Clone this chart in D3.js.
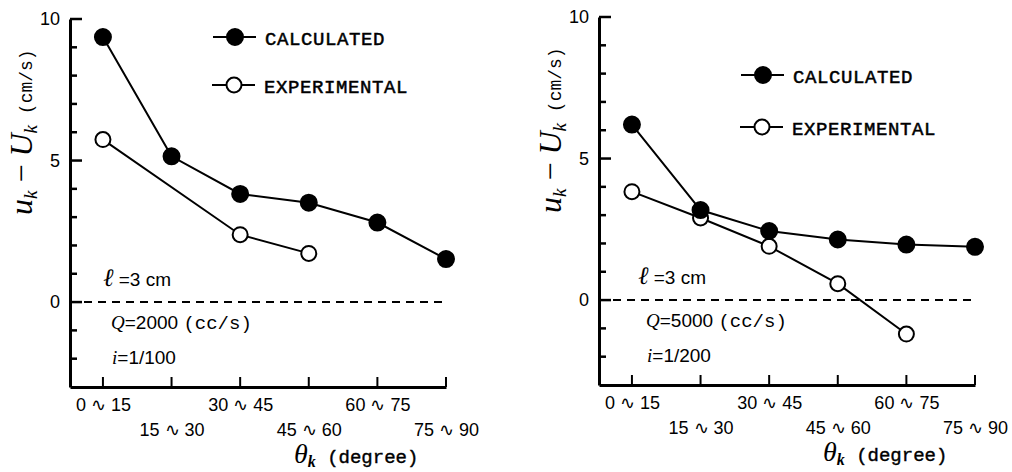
<!DOCTYPE html>
<html>
<head>
<meta charset="utf-8">
<script src="https://cdn.jsdelivr.net/npm/d3@7"></script>
<style>
body { margin: 0; background: #fff; }
text { fill: #000; }
</style>
</head>
<body>
<svg width="1012" height="472"></svg>
<script>
// categories of theta_k and the values
var categories = ["0 \u223f 15", "15 \u223f 30", "30 \u223f 45", "45 \u223f 60", "60 \u223f 75", "75 \u223f 90"];
var yTickLabels = [0, 5, 10];
var calcLeft = [9.36, 5.15, 3.82, 3.51, 2.81, 1.52];
var expLeft = [5.74, null, 2.38, 1.72, null, null];
var calcRight = [6.2, 3.18, 2.44, 2.14, 1.96, 1.88];
var expRight = [3.83, 2.9, 1.9, 0.58, -1.2, null];

var svg = d3.select("svg"),
    width = 376,
    height = 368;

var sans = "'Liberation Sans', Arial, sans-serif",
    serif = "'Liberation Serif', 'Times New Roman', serif",
    mono = "'Liberation Mono', 'Courier New', monospace";

function panel(ox, oy, calc, exp, qText, iText, leg) {
  var g = svg.append("g").attr("transform", "translate(" + ox + "," + oy + ")");

  var x = d3.scaleLinear().domain([-0.48, 5]).range([0, width]);
  var y = d3.scaleLinear().domain([-3, 10]).range([height, 0]);

  // y axis line and labels at 0, 5, 10
  var ya = g.append("g")
      .call(d3.axisLeft(y).tickValues(yTickLabels).tickSize(0).tickPadding(10));
  ya.select(".domain").attr("stroke", "#000").attr("stroke-width", 3);
  ya.selectAll(".tick text").attr("font-family", sans).attr("font-size", 18);

  // inward ticks, every unit
  g.selectAll(".ytick").data(d3.range(-2, 11)).enter().append("line")
      .attr("class", "ytick")
      .attr("x1", 0)
      .attr("x2", function(d) { return yTickLabels.indexOf(d) >= 0 ? 12 : 7; })
      .attr("y1", function(d) { return y(d); })
      .attr("y2", function(d) { return y(d); })
      .attr("stroke", "#000").attr("stroke-width", 2.5);

  // x axis, labels on two rows
  var xa = g.append("g")
      .attr("transform", "translate(0," + height + ")")
      .call(d3.axisBottom(x).tickValues(d3.range(6)).tickSize(0)
        .tickFormat(function(d) { return categories[d]; }));
  xa.select(".domain").attr("stroke", "#000").attr("stroke-width", 3);
  xa.selectAll(".tick text")
      .attr("font-family", sans).attr("font-size", 18)
      .attr("dy", 0)
      .attr("y", function(d) { return d % 2 ? 49 : 24; });

  // upward ticks
  g.selectAll(".xtick").data(d3.range(6)).enter().append("line")
      .attr("class", "xtick")
      .attr("x1", function(d) { return x(d); })
      .attr("x2", function(d) { return x(d); })
      .attr("y1", height).attr("y2", height - 10)
      .attr("stroke", "#000").attr("stroke-width", 2);

  // zero line
  g.append("line")
      .attr("x1", 0).attr("x2", 372)
      .attr("y1", y(0)).attr("y2", y(0))
      .attr("stroke", "#000").attr("stroke-width", 2)
      .attr("stroke-dasharray", "8,6");

  var line = d3.line()
      .x(function(d) { return x(d.i); })
      .y(function(d) { return y(d.v); });

  function pts(arr) {
    return arr.map(function(v, i) { return {i: i, v: v}; })
      .filter(function(d) { return d.v != null; });
  }

  [exp, calc].forEach(function(arr, k) {
    var p = pts(arr);
    g.append("path").datum(p)
        .attr("d", line)
        .attr("fill", "none").attr("stroke", "#000").attr("stroke-width", 2);
    g.selectAll(".m" + k).data(p).enter().append("circle")
        .attr("class", "m" + k)
        .attr("cx", function(d) { return x(d.i); })
        .attr("cy", function(d) { return y(d.v); })
        .attr("r", k ? 8 : 7.5)
        .attr("fill", k ? "#000" : "#fff")
        .attr("stroke", "#000").attr("stroke-width", 2);
  });

  // legend
  [["CALCULATED", true, leg[0]], ["EXPERIMENTAL", false, leg[1]]].forEach(function(l) {
    var p = l[2];
    g.append("line")
        .attr("x1", p[0] - 22).attr("x2", p[0] + 21)
        .attr("y1", p[1]).attr("y2", p[1])
        .attr("stroke", "#000").attr("stroke-width", 2);
    g.append("circle")
        .attr("cx", p[0]).attr("cy", p[1]).attr("r", l[1] ? 8 : 7.5)
        .attr("fill", l[1] ? "#000" : "#fff")
        .attr("stroke", "#000").attr("stroke-width", 2);
    g.append("text")
        .attr("x", p[0] + 30).attr("y", p[1] + 8)
        .attr("font-family", mono).attr("font-size", 19)
        .attr("letter-spacing", 0.6)
        .attr("stroke", "#000").attr("stroke-width", 0.5)
        .text(l[0]);
  });

  // annotations
  var a1 = g.append("text").attr("x", leg[2]).attr("y", 267)
      .attr("font-family", sans).attr("font-size", 19);
  a1.append("tspan").attr("font-family", serif).attr("font-style", "italic").attr("font-size", 25).text("\u2113");
  a1.append("tspan").text(" =3 cm");

  var a2 = g.append("text").attr("x", leg[2] + 8).attr("y", 310)
      .attr("font-family", sans).attr("font-size", 19);
  a2.append("tspan").attr("font-family", serif).attr("font-style", "italic").text("Q");
  a2.append("tspan").text("=" + qText + " ");
  a2.append("tspan").attr("font-family", mono).attr("font-size", 19).text("(cc/s)");

  var a3 = g.append("text").attr("x", leg[2] + 9).attr("y", 345)
      .attr("font-family", sans).attr("font-size", 19);
  a3.append("tspan").attr("font-family", serif).attr("font-style", "italic").text("i");
  a3.append("tspan").text("=" + iText);

  // y label
  var yl = g.append("text")
      .attr("transform", "translate(-38,196) rotate(-90)")
      .attr("font-family", serif).attr("font-size", 32);
  yl.append("tspan").attr("font-style", "italic").text("u");
  yl.append("tspan").attr("font-style", "italic").attr("font-size", 19).attr("dy", 5).text("k");
  yl.append("tspan").attr("dy", -5).text(" \u2212 ");
  yl.append("tspan").attr("font-style", "italic").text("U");
  yl.append("tspan").attr("font-style", "italic").attr("font-size", 19).attr("dy", 5).text("k");
  yl.append("tspan").attr("dy", -5).attr("font-family", mono).attr("font-size", 18).text(" (cm/s)");

  // x label
  var xl = g.append("text")
      .attr("x", 224).attr("y", 444)
      .attr("font-family", serif).attr("font-size", 28);
  xl.append("tspan").attr("font-style", "italic").text("\u03b8");
  xl.append("tspan").attr("font-style", "italic").attr("font-weight", "bold").attr("font-size", 16).attr("dy", 4).text("k");
  xl.append("tspan").attr("dy", -4).attr("font-family", mono).attr("font-size", 19)
      .attr("stroke", "#000").attr("stroke-width", 0.4).text(" (degree)");
}

panel(70, 19, calcLeft, expLeft, "2000", "1/100", [[165, 18], [164, 66], 33]);
panel(599, 17, calcRight, expRight, "5000", "1/200", [[164, 58], [163, 110], 39]);
</script>
</body>
</html>
